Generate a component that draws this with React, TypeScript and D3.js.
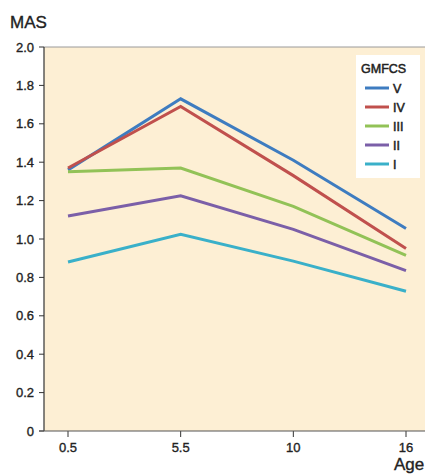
import React from "react";
import * as d3 from "d3";

const ages = ["0.5", "5.5", "10", "16"];
const yTicks = [0, 0.2, 0.4, 0.6, 0.8, 1.0, 1.2, 1.4, 1.6, 1.8, 2.0];
const levels = ["V", "IV", "III", "II", "I"];
const colors = ["#3e7cc0", "#c0504d", "#92c257", "#7b5fa8", "#3ab0c9"];
const valuesV = [1.36, 1.73, 1.41, 1.055];
const valuesIV = [1.37, 1.69, 1.33, 0.95];
const valuesIII = [1.35, 1.37, 1.17, 0.915];
const valuesII = [1.12, 1.225, 1.05, 0.835];
const valuesI = [0.88, 1.025, 0.885, 0.728];
const series = [valuesV, valuesIV, valuesIII, valuesII, valuesI];

const W = 425;
const H = 474;
const margin = { top: 47, left: 44, bottom: 43 };
const plotRight = 432;

// slight stroke to mimic the medium-weight sans of the original
const txt = { fill: "#222", stroke: "#222", strokeWidth: 0.35 };

const App: React.FC = () => {
  const innerH = H - margin.top - margin.bottom;
  const x = d3
    .scalePoint<string>()
    .domain(ages)
    .range([margin.left + 24, plotRight - 26]);
  const y = d3.scaleLinear().domain([0, 2]).range([margin.top + innerH, margin.top]);
  const line = d3
    .line<number>()
    .x((_, i) => x(ages[i]) as number)
    .y((d) => y(d));
  const font = "'Liberation Sans', Arial, Helvetica, sans-serif";
  const yBase = y(0);

  return (
    <svg
      width={W}
      height={H}
      style={{ position: "absolute", left: 0, top: 0, overflow: "hidden" }}
      fontFamily={font}
    >
      <rect x={0} y={0} width={W} height={H} fill="#fff" />
      <rect
        x={margin.left}
        y={margin.top}
        width={plotRight - margin.left}
        height={yBase - margin.top}
        fill="#fdefd4"
      />
      <line x1={margin.left} x2={plotRight} y1={margin.top} y2={margin.top} stroke="#9a9a9a" strokeWidth={1} />
      <text x={10} y={28} fontSize={17} {...txt}>MAS</text>
      {yTicks.map((t) => (
        <g key={t}>
          <line x1={margin.left - 5} x2={margin.left} y1={y(t)} y2={y(t)} stroke="#333" />
          <text x={margin.left - 10} y={y(t) + 4.5} fontSize={13} textAnchor="end" {...txt}>
            {t === 0 ? "0" : t.toFixed(1)}
          </text>
        </g>
      ))}
      {ages.map((a) => (
        <g key={a}>
          <line x1={x(a)} x2={x(a)} y1={yBase} y2={yBase + 6} stroke="#333" />
          <text x={x(a)} y={yBase + 21} fontSize={13} textAnchor="middle" {...txt}>{a}</text>
        </g>
      ))}
      <line x1={margin.left} x2={margin.left} y1={margin.top} y2={yBase} stroke="#333" strokeWidth={1.2} />
      <line x1={margin.left - 5} x2={plotRight} y1={yBase} y2={yBase} stroke="#555" strokeWidth={1.2} />
      <text x={394} y={470} fontSize={17} {...txt}>Age</text>
      {series.map((s, i) => (
        <path key={levels[i]} d={line(s) ?? ""} fill="none" stroke={colors[i]} strokeWidth={3} strokeLinejoin="miter" />
      ))}
      <g>
        <rect x={356} y={55} width={64} height={123} fill="#fff" />
        <text x={361} y={73} fontSize={12.5} {...txt} strokeWidth={0.5}>GMFCS</text>
        {levels.map((l, i) => (
          <g key={l}>
            <line x1={365} x2={389} y1={88 + i * 19} y2={88 + i * 19} stroke={colors[i]} strokeWidth={3} />
            <text x={393} y={92.5 + i * 19} fontSize={12.5} {...txt} strokeWidth={0.5}>{l}</text>
          </g>
        ))}
      </g>
    </svg>
  );
};

export default App;
